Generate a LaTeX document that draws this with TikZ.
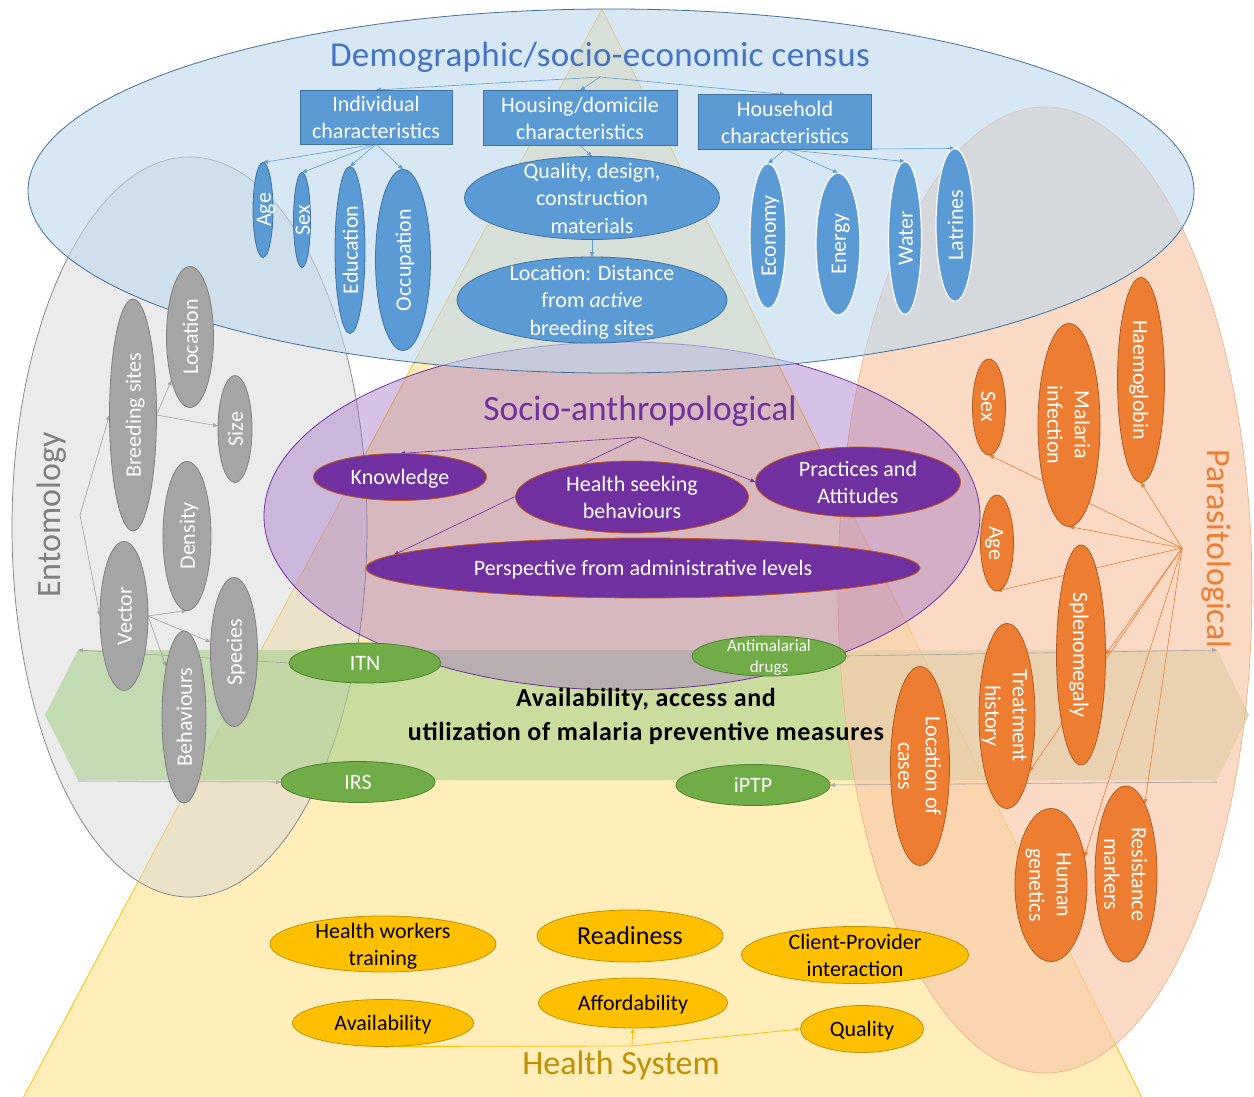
\documentclass[tikz,border=0pt]{standalone}
\usepackage{fontspec}
\setmainfont{Carlito}
\usetikzlibrary{shapes.geometric,arrows.meta}
\definecolor{bmid}{HTML}{5B9BD5}
\definecolor{bdark}{HTML}{41719C}
\definecolor{btitle}{HTML}{4472C4}
\definecolor{bfill}{HTML}{BDD7EE}
\definecolor{gmid}{HTML}{A5A5A5}
\definecolor{gdark}{HTML}{7F7F7F}
\definecolor{gline}{HTML}{A6A6A6}
\definecolor{gfill}{HTML}{D9D9D9}
\definecolor{grmid}{HTML}{70AD47}
\definecolor{grdark}{HTML}{507E32}
\definecolor{grfill}{HTML}{A9D18E}
\definecolor{pmid}{HTML}{7030A0}
\definecolor{pbord}{HTML}{C55A11}
\definecolor{pfill}{HTML}{A070C8}
\definecolor{omid}{HTML}{ED7D31}
\definecolor{odark}{HTML}{AE5A21}
\definecolor{ofill}{HTML}{F8CBAD}
\definecolor{oline}{HTML}{F4B183}
\definecolor{ymid}{HTML}{FFC000}
\definecolor{ydark}{HTML}{BF9000}
\definecolor{yfill}{HTML}{FFD966}
\pgfdeclarelayer{bg}
\pgfdeclarelayer{lines}
\pgfsetlayers{bg,lines,main}
\newcommand\T[1]{\makebox[0pt]{\smash{\raisebox{-0.34em}{\begin{tabular}{@{}c@{}}#1\end{tabular}}}}}
\begin{document}
\begin{tikzpicture}[x=1pt,y=-1pt,
  base/.style={inner sep=0pt, outer sep=0pt, line width=0.8pt, font=\fontsize{22}{27.5}\selectfont, text=white},
  bbox/.style={base, rectangle, fill=bmid, draw=bdark},
  bell/.style={base, ellipse, fill=bmid, draw=bdark},
  bellw/.style={base, ellipse, fill=bmid, draw=white, line width=1.2pt},
  gell/.style={base, ellipse, fill=gmid, draw=gdark},
  grell/.style={base, ellipse, fill=grmid, draw=grdark},
  pell/.style={base, ellipse, fill=pmid, draw=pbord},
  oell/.style={base, ellipse, fill=omid, draw=odark, rotate=-90},
  yell/.style={base, ellipse, fill=ymid, draw=ydark, text=black},
  vert/.style={rotate=90},
  title/.style={inner sep=0pt, font=\fontsize{34}{40}\selectfont},
  arr/.style={line width=0.6pt, -{Triangle[length=5pt,width=4pt]}},
  barr/.style={arr, draw=bmid},
  garr/.style={arr, draw=gline, fill=gline},
  parr/.style={arr, draw=pmid},
  oarr/.style={arr, draw=omid},
  yarr/.style={arr, draw=ymid, line width=0.8pt}]
\useasboundingbox (0,0) rectangle (1254,1097);
\begin{pgfonlayer}{bg}
\fill[white] (0,0) rectangle (1254,1097);
\clip (0,0) rectangle (1254,1097);
% Health system triangle
\filldraw[fill=yfill, fill opacity=0.45, draw=ymid, line width=0.8pt] (602,9) -- (22,1100) -- (1143,1100) -- cycle;
% Entomology ellipse
\filldraw[fill=gfill, fill opacity=0.5, draw=gdark, line width=0.7pt] (189.5,527) ellipse [x radius=177.5, y radius=370];
% Availability band
\filldraw[fill=grfill, fill opacity=0.6, draw=none] (45,715) -- (78,650) -- (1217,650) -- (1249,715) -- (1217,780) -- (78,780) -- cycle;
% Parasitological ellipse
\filldraw[fill=ofill, fill opacity=0.7, draw=oline, line width=0.7pt] (1045,590) ellipse [x radius=207, y radius=483];
% Socio-anthropological ellipse
\filldraw[fill=pfill, fill opacity=0.42, draw=pmid, line width=0.8pt] (622,516) ellipse [x radius=358, y radius=174];
% Demographic ellipse
\filldraw[fill=bfill, fill opacity=0.6, draw=bdark, line width=0.8pt] (611,191) ellipse [x radius=583, y radius=182];
\end{pgfonlayer}

% titles
\node[title, text=btitle, font=\fontsize{35}{40}\selectfont\addfontfeature{LetterSpace=1}] (tdemo) at (600,57) {Demographic/socio-economic census};
\node[title, text=pmid, font=\fontsize{35.5}{40}\selectfont] (tsocio) at (640,411) {Socio-anthropological};
\node[title, text=gdark, rotate=90] (tento) at (52,515) {Entomology};
\node[title, text=omid, rotate=-90] (tpara) at (1216,549) {Parasitological};
\node[inner sep=0pt, font=\fontsize{26}{34}\selectfont\bfseries\addfontfeature{LetterSpace=2.5}, align=center] (tavail) at (646,716) {Availability, access and\\utilization of malaria preventive measures};
\node[title, text=ydark] (thealth) at (621,1065) {Health System};

% hubs
\coordinate (hubB) at (600,77);
\coordinate (hubP) at (639,437);
\coordinate (hubG) at (80,515);
\coordinate (hubO) at (1182,548);
\coordinate (hubY) at (632,1046);
\coordinate (bandTL) at (78,650);
\coordinate (bandBL) at (78,781);
\coordinate (bandTR) at (1217,650);
\coordinate (bandBR) at (1217,782);

% Demographic nodes
\node[bbox, minimum width=152, minimum height=54] (ind) at (376,117) {\T{Individual\\characteristics}};
\node[bbox, minimum width=194, minimum height=55] (house) at (580,118) {\T{Housing/domicile\\characteristics}};
\node[bbox, minimum width=173, minimum height=55] (hh) at (785,122) {\T{Household\\characteristics}};
\node[bell, vert, minimum width=95, minimum height=20] (age) at (263,210) {\T{Age}};
\node[bell, vert, minimum width=95, minimum height=17] (sex) at (302,220) {\T{Sex}};
\node[bell, vert, minimum width=167, minimum height=30] (edu) at (350,250) {\T{Education}};
\node[bell, vert, minimum width=181, minimum height=55] (occ) at (403,260) {\T{Occupation}};
\node[bell, minimum width=255, minimum height=83] (qual) at (592,198) {\T{Quality, design,\\construction\\materials}};
\node[bell, minimum width=270, minimum height=86] (locd) at (592,300) {\T{Location: Distance\\from \textit{active}\\breeding sites}};
\node[bellw, vert, minimum width=145, minimum height=36] (eco) at (768,236) {\T{Economy}};
\node[bellw, vert, minimum width=142, minimum height=44] (ene) at (838,244) {\T{Energy}};
\node[bellw, vert, minimum width=153, minimum height=33] (wat) at (905,238) {\T{Water}};
\node[bellw, vert, minimum width=153, minimum height=38] (lat) at (955,225) {\T{Latrines}};

% Entomology nodes
\node[gell, vert, minimum width=232, minimum height=47] (bs) at (133,415) {\T{Breeding sites}};
\node[gell, vert, minimum width=141, minimum height=47] (gloc) at (190,337) {\T{Location}};
\node[gell, vert, minimum width=107, minimum height=34] (size) at (235,429) {\T{Size}};
\node[gell, vert, minimum width=149, minimum height=48] (den) at (187,536) {\T{Density}};
\node[gell, vert, minimum width=149, minimum height=48] (vec) at (124,616) {\T{Vector}};
\node[gell, vert, minimum width=149, minimum height=47] (spec) at (234,652) {\T{Species}};
\node[gell, vert, minimum width=172, minimum height=44] (beh) at (184,717) {\T{Behaviours}};

% Preventive measures nodes
\node[grell, minimum width=152, minimum height=40] (itn) at (365,663) {\T{ITN}};
\node[grell, minimum width=154, minimum height=40, font=\fontsize{17}{21}\selectfont] (amd) at (769,656) {\T{Antimalarial\\drugs}};
\node[grell, minimum width=154, minimum height=41] (irs) at (358,782) {\T{IRS}};
\node[grell, minimum width=154, minimum height=41] (iptp) at (753,785) {\T{iPTP}};

% Socio-anthropological nodes
\node[pell, minimum width=173, minimum height=47] (know) at (400,477) {\T{Knowledge}};
\node[pell, minimum width=233, minimum height=72] (hsb) at (632,497) {\T{Health seeking\\behaviours}};
\node[pell, minimum width=205, minimum height=70] (prac) at (858,482) {\T{Practices and\\Attitudes}};
\node[pell, minimum width=554, minimum height=60] (persp) at (643,568) {\T{Perspective from administrative levels}};

% Parasitological nodes
\node[oell, minimum width=205, minimum height=47] (haem) at (1141,380) {\T{Haemoglobin}};
\node[oell, minimum width=203, minimum height=62] (mal) at (1069,425) {\T{Malaria\\infection}};
\node[oell, minimum width=96, minimum height=33] (osex) at (989,407) {\T{Sex}};
\node[oell, minimum width=96, minimum height=33] (oage) at (997,543) {\T{Age}};
\node[oell, minimum width=220, minimum height=49] (spl) at (1081,655) {\T{Splenomegaly}};
\node[oell, minimum width=185, minimum height=56] (tre) at (1007,716) {\T{Treatment\\history}};
\node[oell, minimum width=199, minimum height=59] (oloc) at (920,766) {\T{Location of\\cases}};
\node[oell, minimum width=153, minimum height=72] (hg) at (1051,885) {\T{Human\\genetics}};
\node[oell, minimum width=176, minimum height=62] (res) at (1126,874) {\T{Resistance\\markers}};

% Health system nodes
\node[yell, minimum width=226, minimum height=56] (hwt) at (383,944) {\T{Health workers\\training}};
\node[yell, minimum width=186, minimum height=52, font=\fontsize{26}{30}\selectfont] (ready) at (630,936) {\T{Readiness}};
\node[yell, minimum width=227, minimum height=57] (cpi) at (855,955) {\T{Client-Provider\\interaction}};
\node[yell, minimum width=189, minimum height=50] (aff) at (633,1003) {\T{Affordability}};
\node[yell, minimum width=181, minimum height=47] (avail) at (383,1023) {\T{Availability}};
\node[yell, minimum width=123, minimum height=47] (qlt) at (862,1029) {\T{Quality}};

\begin{pgfonlayer}{lines}
% demographic connectors
\draw[barr] (hubB) -- (ind.north);
\draw[barr] (hubB) -- (house.north);
\draw[barr] (hubB) -- (hh.north);
\draw[barr] (ind.south) -- (age.east);
\draw[barr] (ind.south) -- (sex.east);
\draw[barr] (ind.south) -- (edu.east);
\draw[barr] (ind.south) -- (occ.east);
\draw[barr] (house.south) -- (qual.north);
\draw[barr] (qual.south) -- (locd.north);
\draw[barr] (hh.south) -- (eco.east);
\draw[barr] (hh.south) -- (ene.east);
\draw[barr] (hh.south) -- (wat.east);
\draw[barr] (hh.south) -- (lat.east);
% entomology connectors
\draw[garr] (hubG) -- (bs.north);
\draw[garr] (hubG) -- (vec.north);
\draw[garr] (bs.south) -- (gloc);
\draw[garr] (bs.south) -- (size);
\draw[garr] (vec.south) -- (den.west);
\draw[garr] (vec.south) -- (beh);
\draw[garr] (vec.south) -- (spec);
% band connectors
\draw[garr] (itn.west) -- (bandTL);
\draw[garr] (bandBL) -- (irs.west);
\draw[garr] (amd.east) -- (bandTR);
\draw[garr] (bandBR) -- (iptp.east);
% socio connectors
\draw[parr] (hubP) -- (know.north);
\draw[parr] (hubP) -- (prac.west);
\draw[parr] (hubP) -- (persp.177);
% parasitological connectors
\draw[oarr] (hubO) -- (haem.east);
\draw[oarr] (hubO) -- (mal.east);
\draw[oarr] (hubO) -- (osex.east);
\draw[oarr] (hubO) -- (oage.east);
\draw[oarr] (hubO) -- (spl.north);
\draw[oarr] (hubO) -- (tre.22);
\draw[oarr] (hubO) -- (hg.130);
\draw[oarr] (hubO) -- (res.165);
% health system connectors
\draw[yarr] (hubY) -- (avail.south);
\draw[yarr] (hubY) -- (aff.south);
\draw[yarr] (hubY) -- (qlt.west);
\end{pgfonlayer}
\end{tikzpicture}
\end{document}
